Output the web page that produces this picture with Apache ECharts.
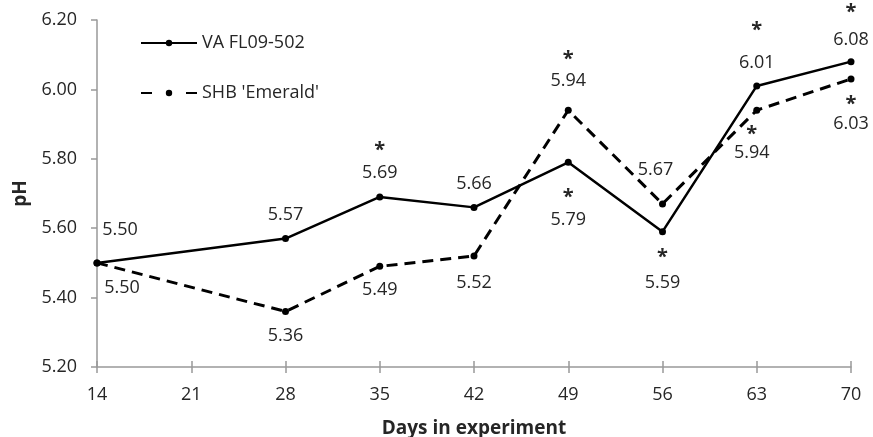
<!DOCTYPE html>
<html>
<head>
<meta charset="utf-8">
<script src="https://cdn.jsdelivr.net/npm/echarts@6/dist/echarts.min.js"></script>
<style>html,body{margin:0;padding:0;background:#fff;}</style>
</head>
<body>
<div id="main" style="width:873px;height:437px;"></div>
<script type="text/javascript">
// data
var days = [14, 28, 35, 42, 49, 56, 63, 70];
var vaValues = [5.50, 5.57, 5.69, 5.66, 5.79, 5.59, 6.01, 6.08];
var shbValues = [5.50, 5.36, 5.49, 5.52, 5.94, 5.67, 5.94, 6.03];
// asterisk = significant difference
var vaStar = [false, false, true, false, true, true, true, true];
var shbStar = [false, false, false, false, true, false, true, true];
var seriesNames = ['VA FL09-502', "SHB 'Emerald'"];

var FONT = 'Open Sans';
var TXT = '#262626';

// where each value label sits relative to its point (number centre), and star gap
var vaNudge = [[23, -33], [0, -24], [0, -24], [0, -24], [0, 58], [0, 51], [0, -23], [0, -22]];
var vaGap = [0, 0, 25, 0, 25, 28, 35, 30];
var shbNudge = [[25, 25], [0, 24], [0, 24], [0, 27], [0, -29], [-7, -34], [-5, 43], [0, 45]];
var shbGap = [0, 0, 0, 0, 24, 0, 21, 22];

function richStyle(ls) {
    return {
        s: { fontFamily: FONT, fontSize: 20, fontWeight: 'bold', color: TXT, lineHeight: ls },
        v: { fontFamily: FONT, fontSize: 18, color: TXT, lineHeight: 20 }
    };
}

function buildData(values, stars, nudges, gaps) {
    return days.map(function (d, i) {
        var n = nudges[i];
        var lbl = {};
        if (stars[i]) {
            var g = gaps[i] - 2.5;
            var ls = 2 * g - 20;
            lbl.rich = richStyle(ls);
            lbl.offset = [n[0], n[1] - ls / 2];
        } else {
            lbl.offset = [n[0], n[1]];
        }
        return { value: [d, values[i]], label: lbl };
    });
}

function makeSeries(name, values, stars, nudges, gaps, lineType, width) {
    return {
        name: name,
        type: 'line',
        xAxisIndex: 0,
        data: buildData(values, stars, nudges, gaps),
        symbol: 'circle',
        symbolSize: 7,
        itemStyle: { color: '#000' },
        lineStyle: { color: '#000', width: width, type: lineType },
        label: {
            show: true,
            position: 'inside',
            align: 'center',
            verticalAlign: 'middle',
            formatter: function (p) {
                var s = stars[p.dataIndex] ? '{s|*}\n' : '';
                return s + '{v|' + p.value[1].toFixed(2) + '}';
            },
            rich: richStyle(20)
        }
    };
}

var myChart = echarts.init(document.getElementById('main'));

var option = {
    backgroundColor: '#fff',
    animation: false,
    grid: { left: 97, right: 22, top: 20, bottom: 70, outerBoundsMode: 'none' },
    legend: {
        orient: 'vertical',
        left: 140,
        top: 34,
        padding: 0,
        itemWidth: 56,
        itemHeight: 8,
        itemGap: 32,
        textStyle: { fontFamily: FONT, fontSize: 18, color: TXT },
        data: [
            { name: seriesNames[0] },
            { name: seriesNames[1], lineStyle: { type: [11, 34] } }
        ]
    },
    xAxis: [{
        type: 'value',
        min: 14,
        max: 70,
        interval: 7,
        name: 'Days in experiment',
        nameLocation: 'middle',
        nameGap: 52,
        nameTextStyle: { fontFamily: FONT, fontSize: 19, fontWeight: 'bold', color: TXT },
        axisLine: { lineStyle: { color: '#999', width: 1.5 } },
        axisTick: { length: 6, lineStyle: { color: '#999', width: 1.5 } },
        axisLabel: { fontFamily: FONT, fontSize: 18, color: TXT, margin: 19 },
        splitLine: { show: false }
    }, {
        // inner half of the crossing ticks
        type: 'value',
        position: 'bottom',
        min: 14,
        max: 70,
        interval: 7,
        axisLine: { show: false },
        axisTick: { inside: true, length: 6, lineStyle: { color: '#999', width: 1.5 } },
        axisLabel: { show: false },
        splitLine: { show: false }
    }],
    yAxis: {
        type: 'value',
        min: 5.2,
        max: 6.2,
        interval: 0.2,
        name: 'pH',
        nameLocation: 'middle',
        nameGap: 65,
        nameTextStyle: { fontFamily: FONT, fontSize: 19, fontWeight: 'bold', color: TXT },
        axisLine: { show: true, lineStyle: { color: '#999', width: 1.5 } },
        axisTick: { show: true, length: 6, lineStyle: { color: '#999', width: 1.5 } },
        axisLabel: {
            fontFamily: FONT, fontSize: 18, color: TXT, margin: 20,
            formatter: function (v) { return v.toFixed(2); }
        },
        splitLine: { show: false }
    },
    series: [
        makeSeries(seriesNames[0], vaValues, vaStar, vaNudge, vaGap, 'solid', 2.5),
        makeSeries(seriesNames[1], shbValues, shbStar, shbNudge, shbGap, [11, 7], 3)
    ]
};

myChart.setOption(option);
</script>
</body>
</html>
